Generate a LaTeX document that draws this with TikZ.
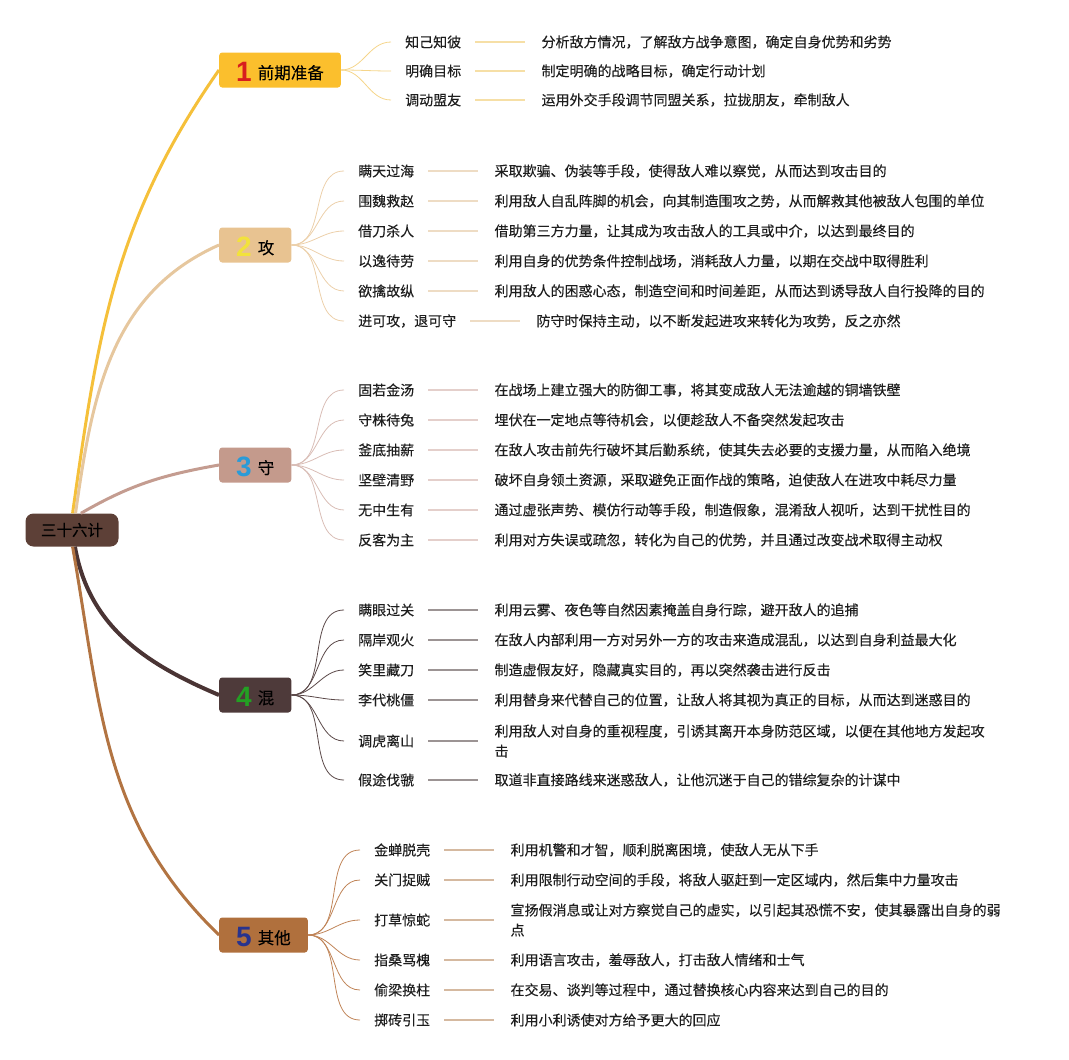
\documentclass[tikz,border=0pt]{standalone}
\usepackage{fontspec}
\setmainfont{Noto Sans CJK SC}[FakeBold=0.2]
\newfontfamily\numfont{Liberation Sans}
\usetikzlibrary{positioning}

\definecolor{rootbrown}{HTML}{5D4037}
\definecolor{prepyellow}{HTML}{FBBF2D}
\definecolor{atktan}{HTML}{E8C391}
\definecolor{dfnrose}{HTML}{C49A8C}
\definecolor{mixbrown}{HTML}{4E3A3A}
\definecolor{miscbrown}{HTML}{B0703D}
\definecolor{inkgray}{HTML}{1E1E1E}
% trunk, fan and stub colours
\definecolor{preptrunk}{HTML}{F5C03A}
\definecolor{atktrunk}{HTML}{E6C79E}
\definecolor{dfntrunk}{HTML}{C49C90}
\definecolor{mixtrunk}{HTML}{4A3434}
\definecolor{misctrunk}{HTML}{B27442}
\definecolor{prepfan}{HTML}{F5D58A}
\definecolor{atkfan}{HTML}{ECD0AA}
\definecolor{dfnfan}{HTML}{D9BDB6}
\definecolor{mixfan}{HTML}{5A4848}
\definecolor{miscfan}{HTML}{C08458}
\definecolor{prepstub}{HTML}{F6DFA6}
\definecolor{atkstub}{HTML}{EEDCC4}
\definecolor{dfnstub}{HTML}{E4CFCB}
\definecolor{mixstub}{HTML}{9C9494}
\definecolor{miscstub}{HTML}{D5B9A0}
% digit colours
\definecolor{numred}{HTML}{D81E1E}
\definecolor{numyellow}{HTML}{F2E23C}
\definecolor{numblue}{HTML}{2A9BD8}
\definecolor{numgreen}{HTML}{23A023}
\definecolor{numnavy}{HTML}{28338E}

% digit, then the topic's name
\newcommand{\topiclabel}[3]{{\numfont\bfseries\fontsize{28}{28}\selectfont\color{#1}#2}\hspace{6pt}\raisebox{2.5pt}{#3}}

\begin{document}
\begin{tikzpicture}[x=1pt,y=-1pt,node distance=50pt,text=inkgray,
                    font=\fontsize{14}{20}\selectfont]
  \tikzstyle{root}=[fill=rootbrown,text=black,rounded corners=8pt,minimum width=93pt,
                    minimum height=33pt,font=\fontsize{15.5}{18}\selectfont]
  \tikzstyle{topic}=[anchor=west,rounded corners=3pt,minimum height=35pt,inner xsep=17pt,
                     text height=23pt,text depth=0pt,text=black,
                     font=\fontsize{16.5}{18}\selectfont]
  \tikzstyle{leaf}=[anchor=west,inner xsep=14pt,inner ysep=2pt]
  \tikzstyle{desc}=[inner xsep=16pt,inner ysep=2pt,align=left]
  \tikzstyle{trunk}=[line width=3pt]
  \tikzstyle{fan}=[line width=0.8pt,out=0,in=180]
  \tikzstyle{stub}=[line width=1.6pt]

  \useasboundingbox (0,0) rectangle (1069,1060);

  \node[root]                          (plan) at (72,530) {三十六计};
  \node[topic,fill=prepyellow]         (prep) at (219,70)  {\topiclabel{numred}{1}{前期准备}};
  \node[topic,fill=atktan]             (atk)  at (219,245) {\topiclabel{numyellow}{2}{攻}};
  \node[topic,fill=dfnrose]            (dfn)  at (219,465) {\topiclabel{numblue}{3}{守}};
  \node[topic,fill=mixbrown]           (mix)  at (219,695) {\topiclabel{numgreen}{4}{混}};
  \node[topic,fill=miscbrown]          (misc) at (219,935) {\topiclabel{numnavy}{5}{其他}};

  % trunk lines
  \path (plan.88)  edge[trunk,draw=preptrunk,out=82,in=235]  (prep.west);
  \path (plan.78)  edge[trunk,draw=atktrunk,out=82,in=204]   (atk.west);
  \path (plan.62)  edge[trunk,draw=dfntrunk,out=30,in=190]   (dfn.west);
  \path (plan.-80) edge[line width=4pt,draw=mixtrunk,out=-80,in=157] (mix.west);
  \path (plan.-88) edge[trunk,draw=misctrunk,out=-80,in=136] (misc.west);

  % 前期准备
  \node[leaf] (p1) at (391,42)  {知己知彼};
  \node[leaf] (p2) at (391,71)  {明确目标};
  \node[leaf] (p3) at (391,100) {调动盟友};
  \node[desc] (q1) [right=of p1] {分析敌方情况，了解敌方战争意图，确定自身优势和劣势};
  \node[desc] (q2) [right=of p2] {制定明确的战略目标，确定行动计划};
  \node[desc] (q3) [right=of p3] {运用外交手段调节同盟关系，拉拢朋友，牵制敌人};

  % 攻
  \node[leaf] (a1) at (344,171) {瞒天过海};
  \node[leaf] (a2) at (344,201) {围魏救赵};
  \node[leaf] (a3) at (344,231) {借刀杀人};
  \node[leaf] (a4) at (344,261) {以逸待劳};
  \node[leaf] (a5) at (344,291) {欲擒故纵};
  \node[leaf] (a6) at (344,321) {进可攻，退可守};
  \node[desc] (b1) [right=of a1] {采取欺骗、伪装等手段，使得敌人难以察觉，从而达到攻击目的};
  \node[desc] (b2) [right=of a2] {利用敌人自乱阵脚的机会，向其制造围攻之势，从而解救其他被敌人包围的单位};
  \node[desc] (b3) [right=of a3] {借助第三方力量，让其成为攻击敌人的工具或中介，以达到最终目的};
  \node[desc] (b4) [right=of a4] {利用自身的优势条件控制战场，消耗敌人力量，以期在交战中取得胜利};
  \node[desc] (b5) [right=of a5] {利用敌人的困惑心态，制造空间和时间差距，从而达到诱导敌人自行投降的目的};
  \node[desc] (b6) [right=of a6] {防守时保持主动，以不断发起进攻来转化为攻势，反之亦然};

  % 守
  \node[leaf] (d1) at (344,390) {固若金汤};
  \node[leaf] (d2) at (344,420) {守株待兔};
  \node[leaf] (d3) at (344,450) {釜底抽薪};
  \node[leaf] (d4) at (344,480) {坚壁清野};
  \node[leaf] (d5) at (344,510) {无中生有};
  \node[leaf] (d6) at (344,540) {反客为主};
  \node[desc] (e1) [right=of d1] {在战场上建立强大的防御工事，将其变成敌人无法逾越的铜墙铁壁};
  \node[desc] (e2) [right=of d2] {埋伏在一定地点等待机会，以便趁敌人不备突然发起攻击};
  \node[desc] (e3) [right=of d3] {在敌人攻击前先行破坏其后勤系统，使其失去必要的支援力量，从而陷入绝境};
  \node[desc] (e4) [right=of d4] {破坏自身领土资源，采取避免正面作战的策略，迫使敌人在进攻中耗尽力量};
  \node[desc] (e5) [right=of d5] {通过虚张声势、模仿行动等手段，制造假象，混淆敌人视听，达到干扰性目的};
  \node[desc] (e6) [right=of d6] {利用对方失误或疏忽，转化为自己的优势，并且通过改变战术取得主动权};

  % 混
  \node[leaf] (m1) at (344,610) {瞒眼过关};
  \node[leaf] (m2) at (344,640) {隔岸观火};
  \node[leaf] (m3) at (344,670) {笑里藏刀};
  \node[leaf] (m4) at (344,700) {李代桃僵};
  \node[leaf] (m5) at (344,741) {调虎离山};
  \node[leaf] (m6) at (344,780) {假途伐虢};
  \node[desc] (n1) [right=of m1] {利用云雾、夜色等自然因素掩盖自身行踪，避开敌人的追捕};
  \node[desc] (n2) [right=of m2] {在敌人内部利用一方对另外一方的攻击来造成混乱，以达到自身利益最大化};
  \node[desc] (n3) [right=of m3] {制造虚假友好，隐藏真实目的，再以突然袭击进行反击};
  \node[desc] (n4) [right=of m4] {利用替身来代替自己的位置，让敌人将其视为真正的目标，从而达到迷惑目的};
  \node[desc] (n5) [right=of m5] {利用敌人对自身的重视程度，引诱其离开本身防范区域，以便在其他地方发起攻\\击};
  \node[desc] (n6) [right=of m6] {取道非直接路线来迷惑敌人，让他沉迷于自己的错综复杂的计谋中};

  % 其他
  \node[leaf] (o1) at (360,850)  {金蝉脱壳};
  \node[leaf] (o2) at (360,880)  {关门捉贼};
  \node[leaf] (o3) at (360,920)  {打草惊蛇};
  \node[leaf] (o4) at (360,960)  {指桑骂槐};
  \node[leaf] (o5) at (360,990)  {偷梁换柱};
  \node[leaf] (o6) at (360,1020) {掷砖引玉};
  \node[desc] (r1) [right=of o1] {利用机警和才智，顺利脱离困境，使敌人无从下手};
  \node[desc] (r2) [right=of o2] {利用限制行动空间的手段，将敌人驱赶到一定区域内，然后集中力量攻击};
  \node[desc] (r3) [right=of o3] {宣扬假消息或让对方察觉自己的虚实，以引起其恐慌不安，使其暴露出自身的弱\\点};
  \node[desc] (r4) [right=of o4] {利用语言攻击，羞辱敌人，打击敌人情绪和士气};
  \node[desc] (r5) [right=of o5] {在交易、谈判等过程中，通过替换核心内容来达到自己的目的};
  \node[desc] (r6) [right=of o6] {利用小利诱使对方给予更大的回应};

  \path[fan,draw=prepfan] (prep.east) edge (p1.west) edge (p2.west) edge (p3.west);
  \path[stub,draw=prepstub] (p1) edge (q1) (p2) edge (q2) (p3) edge (q3);

  \path[fan,draw=atkfan] (atk.east) edge (a1.west) edge (a2.west) edge (a3.west)
                                   edge (a4.west) edge (a5.west) edge (a6.west);
  \path[stub,draw=atkstub] (a1) edge (b1) (a2) edge (b2) (a3) edge (b3)
                           (a4) edge (b4) (a5) edge (b5) (a6) edge (b6);

  \path[fan,draw=dfnfan] (dfn.east) edge (d1.west) edge (d2.west) edge (d3.west)
                                   edge (d4.west) edge (d5.west) edge (d6.west);
  \path[stub,draw=dfnstub] (d1) edge (e1) (d2) edge (e2) (d3) edge (e3)
                           (d4) edge (e4) (d5) edge (e5) (d6) edge (e6);

  \path[fan,draw=mixfan] (mix.east) edge (m1.west) edge (m2.west) edge (m3.west)
                                   edge (m4.west) edge (m5.west) edge (m6.west);
  \path[stub,draw=mixstub] (m1) edge (n1) (m2) edge (n2) (m3) edge (n3)
                           (m4) edge (n4) (m5) edge (n5) (m6) edge (n6);

  \path[fan,draw=miscfan] (misc.east) edge (o1.west) edge (o2.west) edge (o3.west)
                                     edge (o4.west) edge (o5.west) edge (o6.west);
  \path[stub,draw=miscstub] (o1) edge (r1) (o2) edge (r2) (o3) edge (r3)
                            (o4) edge (r4) (o5) edge (r5) (o6) edge (r6);
\end{tikzpicture}
\end{document}
